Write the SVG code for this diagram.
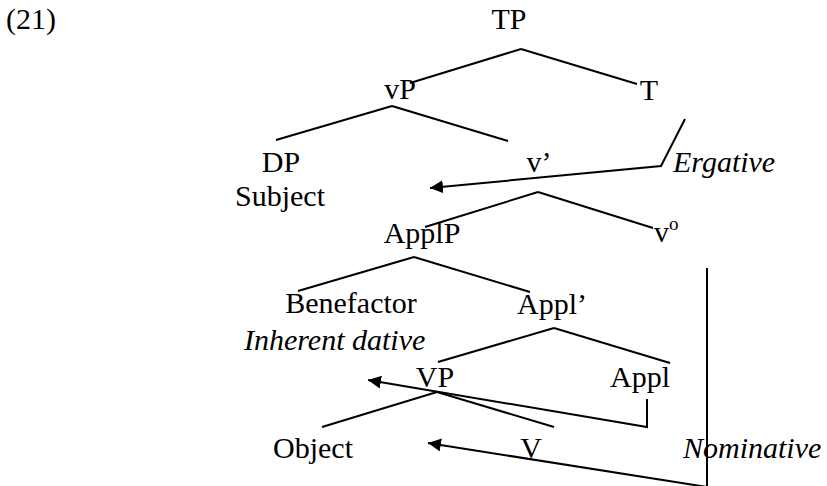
<svg xmlns="http://www.w3.org/2000/svg" width="827" height="486" viewBox="0 0 827 486">
<style>
  text { font-family: "Liberation Serif", "Times New Roman", serif; font-size: 30px; fill: #000; }
  .c { text-anchor: middle; }
  .i { font-style: italic; }
  .e { stroke: #000; stroke-width: 2; fill: none; stroke-linecap: butt; stroke-linejoin: miter; }
</style>
<defs>
  <marker id="ah" markerUnits="userSpaceOnUse" markerWidth="14" markerHeight="14" refX="13" refY="6.5" orient="auto">
    <path d="M0,0 L13,6.5 L0,13 z" fill="#000"/>
  </marker>
</defs>
<rect width="827" height="486" fill="#fff"/>
<text x="6" y="29">(21)</text>
<g id="connectors">
  <line class="e" x1="521" y1="49" x2="410" y2="83"/>
  <line class="e" x1="521" y1="49" x2="637" y2="84"/>
  <line class="e" x1="392" y1="106" x2="276" y2="140"/>
  <line class="e" x1="392" y1="106" x2="508" y2="141"/>
  <line class="e" x1="538" y1="192" x2="425" y2="227"/>
  <line class="e" x1="538" y1="192" x2="653" y2="228"/>
  <line class="e" x1="414" y1="257" x2="298" y2="291"/>
  <line class="e" x1="414" y1="257" x2="530" y2="292"/>
  <line class="e" x1="554" y1="328" x2="438" y2="362"/>
  <line class="e" x1="554" y1="328" x2="670" y2="363"/>
  <line class="e" x1="437" y1="392" x2="322" y2="427"/>
  <line class="e" x1="437" y1="392" x2="554" y2="427"/>
  <polyline class="e" points="685,119 661,166 430,188" marker-end="url(#ah)"/>
  <polyline class="e" points="647,399 647,427 368,380" marker-end="url(#ah)"/>
  <polyline class="e" points="707,268 707,487 428,443" marker-end="url(#ah)"/>
</g>
<g id="n-TP"><text class="c" x="509" y="29">TP</text></g>
<g id="n-vP"><text class="c" x="400" y="99">vP</text></g>
<g id="n-T"><text class="c" x="649" y="100">T</text></g>
<g id="n-DP"><text class="c" x="281" y="172">DP</text><text class="c" x="280" y="206">Subject</text></g>
<g id="n-vbar"><text class="c" x="539" y="172">v’</text></g>
<g id="n-ergative"><text class="i" x="673" y="172">Ergative</text></g>
<g id="n-ApplP"><text class="c" x="422" y="243">ApplP</text></g>
<g id="n-v0"><text x="654" y="242">v<tspan font-size="19" dy="-12">o</tspan></text></g>
<g id="n-Benefactor"><text class="c" x="351" y="313">Benefactor</text><text class="i" x="244" y="350">Inherent dative</text></g>
<g id="n-Applbar"><text class="c" x="552" y="314">Appl’</text></g>
<g id="n-VP"><text class="c" x="435" y="387">VP</text></g>
<g id="n-Appl"><text class="c" x="640" y="387">Appl</text></g>
<g id="n-Object"><text class="c" x="313" y="458">Object</text></g>
<g id="n-V"><text class="c" x="531" y="458">V</text></g>
<g id="n-nominative"><text class="i" x="683" y="458">Nominative</text></g>
</svg>
